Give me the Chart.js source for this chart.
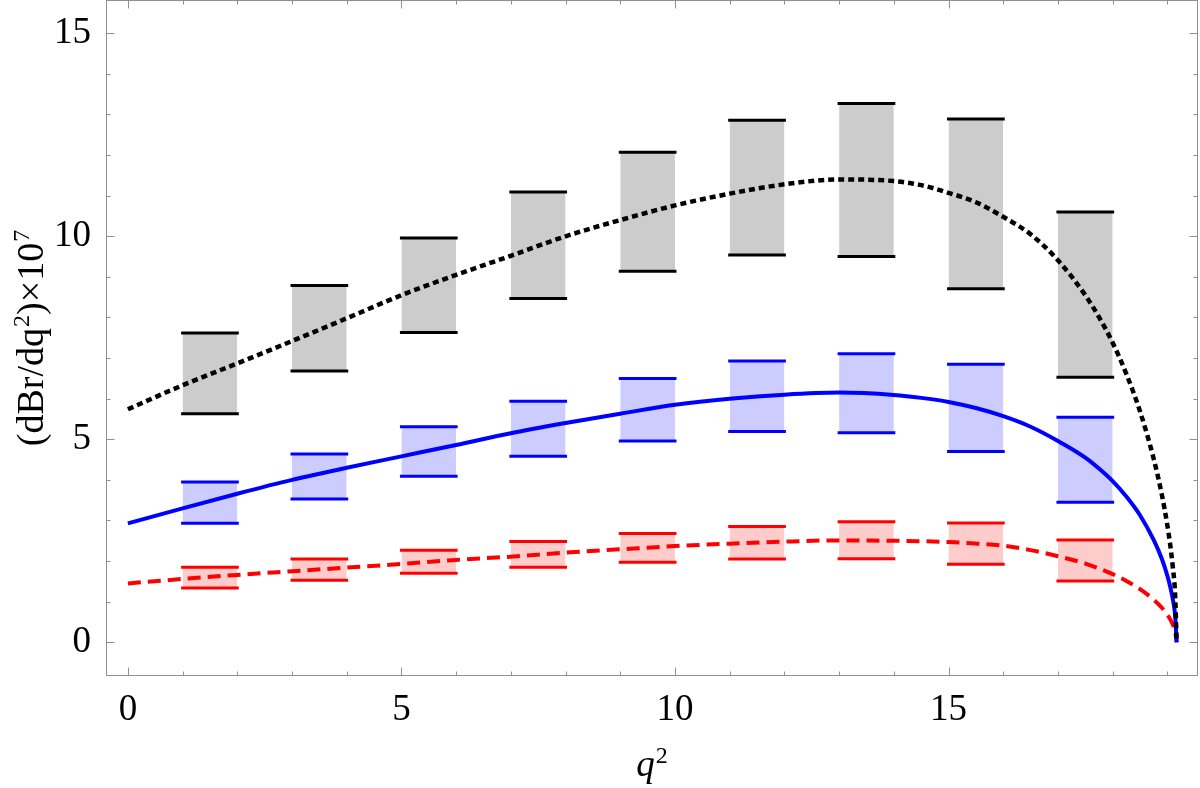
<!DOCTYPE html>
<html>
<head>
<meta charset="utf-8">
<script src="https://cdn.jsdelivr.net/npm/chart.js@4.4.1/dist/chart.umd.min.js"></script>
<style>
  html, body { margin: 0; padding: 0; background: #fff; }
  #wrap { width: 1200px; height: 788px; }
</style>
</head>
<body>
<div id="wrap"><canvas id="chart"></canvas></div>
<script>
// theory curves, sampled in q^2
const qCurve     = [0, 1, 2, 3, 4, 5, 6, 7, 8, 9, 10, 11, 12, 13, 14, 14.5, 15, 15.5, 16, 16.5, 17, 17.5, 17.75, 18, 18.25, 18.5, 18.75, 18.9, 19, 19.05, 19.1, 19.14, 19.17];
const curveBlack = [5.74, 6.33, 6.87, 7.42, 7.98, 8.55, 9.05, 9.52, 10.0, 10.4, 10.76, 11.05, 11.28, 11.40, 11.36, 11.26, 11.07, 10.84, 10.48, 10.05, 9.41, 8.55, 8.01, 7.38, 6.61, 5.69, 4.52, 3.63, 2.88, 2.42, 1.85, 1.21, 0];
const curveBlue  = [2.93, 3.30, 3.66, 4.00, 4.30, 4.58, 4.86, 5.15, 5.40, 5.63, 5.85, 6.00, 6.10, 6.15, 6.09, 6.02, 5.92, 5.77, 5.57, 5.31, 4.96, 4.55, 4.28, 3.97, 3.59, 3.13, 2.52, 2.05, 1.64, 1.38, 1.06, 0.69, 0];
const curveRed   = [1.45, 1.56, 1.66, 1.75, 1.84, 1.93, 2.03, 2.11, 2.21, 2.29, 2.37, 2.43, 2.48, 2.51, 2.50, 2.49, 2.47, 2.43, 2.38, 2.27, 2.12, 1.94, 1.82, 1.68, 1.51, 1.31, 1.05, 0.85, 0.68, 0.57, 0.43, 0.28, 0];

// q^2 bins
const binLo = [1, 3, 5, 7, 9, 11, 13, 15, 17];
const binHi = [2, 4, 6, 8, 10, 12, 14, 16, 18];

const grayUpper = [7.62, 8.79, 9.96, 11.09, 12.07, 12.86, 13.27, 12.89, 10.60];
const grayLower = [5.63, 6.68, 7.63, 8.47, 9.14, 9.54, 9.50, 8.71, 6.53];
const blueUpper = [3.95, 4.64, 5.31, 5.94, 6.50, 6.93, 7.11, 6.85, 5.54];
const blueLower = [2.93, 3.53, 4.09, 4.58, 4.96, 5.19, 5.16, 4.70, 3.45];
const redUpper  = [1.85, 2.05, 2.27, 2.48, 2.68, 2.85, 2.97, 2.94, 2.52];
const redLower  = [1.34, 1.53, 1.70, 1.85, 1.97, 2.05, 2.06, 1.92, 1.51];

const xTicks = [0, 5, 10, 15];
const yTicks = [0, 5, 10, 15];

// axis titles as [text, superscript] pairs
const xTitle = [['q', '2']];
const yTitle = [['(dBr/dq', '2'], [')\u00d710', '7']];

const serif = '"Liberation Serif", "Times New Roman", serif';

function curve(ys, color, width, dash) {
  return {
    data: qCurve.map((x, i) => ({ x, y: ys[i] })),
    borderColor: color,
    borderWidth: width,
    borderDash: dash,
    cubicInterpolationMode: 'monotone',
    pointRadius: 0,
    fill: false,
    order: 0
  };
}

function boxes(upper, lower, line, fillColor) {
  let sets = [];
  binLo.forEach((lo, i) => {
    let hi = binHi[i];
    sets.push({
      data: [{ x: lo, y: lower[i] }, { x: hi, y: lower[i] }],
      borderColor: line,
      borderWidth: 3,
      borderCapStyle: 'square',
      pointRadius: 0,
      fill: false,
      order: 1
    });
    sets.push({
      data: [{ x: lo, y: upper[i] }, { x: hi, y: upper[i] }],
      borderColor: line,
      borderWidth: 3,
      borderCapStyle: 'square',
      backgroundColor: fillColor,
      pointRadius: 0,
      fill: '-1',
      order: 1
    });
  });
  return sets;
}

function drawRich(ctx, parts, italic, size, supSize, rise) {
  let main = (italic ? 'italic ' : '') + size + 'px ' + serif;
  let sup = supSize + 'px ' + serif;
  let total = 0;
  parts.forEach(([t, s]) => {
    ctx.font = main; total += ctx.measureText(t).width;
    ctx.font = sup; total += ctx.measureText(s).width + 1;
  });
  let x = -total / 2;
  parts.forEach(([t, s]) => {
    ctx.font = main; ctx.fillText(t, x, 0); x += ctx.measureText(t).width + 1;
    ctx.font = sup; ctx.fillText(s, x, -rise); x += ctx.measureText(s).width;
  });
}

// frame with inward ticks on all four sides, plus axis titles
const frameTicks = {
  id: 'frameTicks',
  afterDatasetsDraw(chart) {
    let { ctx, chartArea: a, scales: { x, y } } = chart;
    ctx.save();
    ctx.strokeStyle = '#8f8f8f';
    ctx.lineWidth = 1;
    ctx.strokeRect(a.left + 0.5, a.top + 0.5, a.right - a.left - 1, a.bottom - a.top - 1);
    ctx.beginPath();
    for (let v = 0; v <= 19; v++) {
      let px = Math.round(x.getPixelForValue(v)) + 0.5;
      let len = v % 5 === 0 ? 8.5 : 4.5;
      ctx.moveTo(px, a.bottom); ctx.lineTo(px, a.bottom - len);
      ctx.moveTo(px, a.top); ctx.lineTo(px, a.top + len);
    }
    for (let v = 0; v <= 15; v++) {
      let py = Math.round(y.getPixelForValue(v)) + 0.5;
      let len = v % 5 === 0 ? 8.5 : 4.5;
      ctx.moveTo(a.left, py); ctx.lineTo(a.left + len, py);
      ctx.moveTo(a.right, py); ctx.lineTo(a.right - len, py);
    }
    ctx.stroke();

    ctx.fillStyle = '#000';
    ctx.textBaseline = 'alphabetic';
    ctx.textAlign = 'left';

    ctx.save();
    ctx.translate((a.left + a.right) / 2, 776);
    drawRich(ctx, xTitle, true, 37, 24, 13);
    ctx.restore();

    ctx.save();
    ctx.translate(43, (a.top + a.bottom) / 2);
    ctx.rotate(-Math.PI / 2);
    drawRich(ctx, yTitle, false, 38, 24, 14);
    ctx.restore();

    ctx.restore();
  }
};

new Chart(document.getElementById('chart'), {
  type: 'line',
  data: {
    datasets: [
      curve(curveBlack, '#000000', 4.5, [6, 4]),
      curve(curveBlue, '#0000ff', 4, []),
      curve(curveRed, '#ff0000', 4, [13, 7]),
      ...boxes(grayUpper, grayLower, '#000000', '#cccccc'),
      ...boxes(blueUpper, blueLower, '#0000ff', '#ccccff'),
      ...boxes(redUpper, redLower, '#ff0000', '#ffcccc')
    ]
  },
  options: {
    responsive: true,
    maintainAspectRatio: false,
    animation: false,
    devicePixelRatio: 1,
    layout: { padding: { top: 0, right: 2, left: 0, bottom: 0 } },
    plugins: { legend: { display: false }, tooltip: { enabled: false } },
    scales: {
      x: {
        type: 'linear',
        min: -0.4,
        max: 19.56,
        afterBuildTicks: (s) => { s.ticks = xTicks.map(v => ({ value: v })); },
        afterFit: (s) => { s.height = 112; s.paddingLeft = 0; s.paddingRight = 0; },
        grid: { display: false },
        border: { display: false },
        ticks: { color: '#000', padding: 4, maxRotation: 0, font: { family: serif, size: 37 } }
      },
      y: {
        type: 'linear',
        min: -0.83,
        max: 15.82,
        afterBuildTicks: (s) => { s.ticks = yTicks.map(v => ({ value: v })); },
        afterFit: (s) => { s.width = 106; s.paddingTop = 0; s.paddingBottom = 0; },
        grid: { display: false },
        border: { display: false },
        ticks: { color: '#000', padding: 7, font: { family: serif, size: 37 } }
      }
    }
  },
  plugins: [frameTicks]
});
</script>
</body>
</html>
